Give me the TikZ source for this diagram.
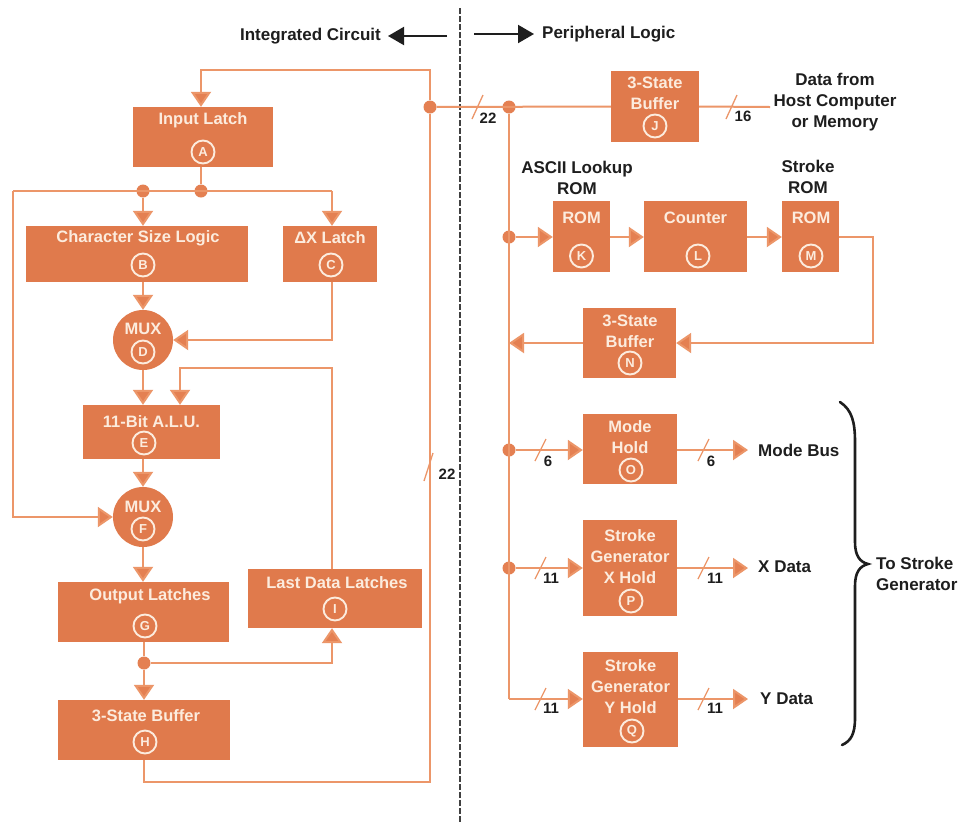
\documentclass[tikz,border=0pt]{standalone}
\usepackage{fontspec}
\setmainfont{Liberation Sans}
\usetikzlibrary{arrows.meta,calc}
\definecolor{boxc}{RGB}{224,122,76}
\definecolor{linec}{RGB}{236,150,105}
\definecolor{dotc}{RGB}{228,128,82}
\definecolor{txtc}{RGB}{252,236,222}
\definecolor{inkc}{RGB}{30,30,30}
\begin{document}
\begin{tikzpicture}[x=1pt,y=-1pt,
  blk/.style={rectangle,fill=boxc,draw=none,inner sep=0pt},
  mux/.style={circle,fill=boxc,draw=none,inner sep=0pt,minimum size=60pt},
  wtxt/.style={text=txtc,font=\fontsize{16.5}{21}\selectfont\bfseries,inner sep=0pt,align=center},
  ltr/.style={circle,draw=txtc,line width=1.9pt,minimum size=23pt,inner sep=0pt,text=txtc,font=\fontsize{13}{13}\selectfont\bfseries},
  btxt/.style={text=inkc,font=\fontsize{17}{21}\selectfont\bfseries,inner sep=0pt,align=center},
  num/.style={text=inkc,font=\fontsize{15}{15}\selectfont\bfseries,inner sep=0pt},
  wire/.style={draw=linec,line width=2pt},
  arr/.style={wire,-{Triangle[width=20pt,length=15pt,fill=dotc]},draw=linec},
  harr/.style={draw=inkc,line width=2pt,-{Triangle[width=18pt,length=16pt]}},
  dot/.style={circle,fill=dotc,draw=none,minimum size=13pt,inner sep=0pt},
  tick/.style={draw=linec,line width=1.3pt}
]
\fill[white] (0,0) rectangle (964,823);
\useasboundingbox (0,0) rectangle (964,823);

% header
\node[btxt,anchor=east] (ic) at (381,36) {Integrated Circuit};
\coordinate (ica) at (447,36);
\draw[harr] (ica) -- ([xshift=7]ic.east);
\node[btxt,anchor=west] (pl) at (542,34) {Peripheral Logic};
\coordinate (pla) at (474,34);
\draw[harr] (pla) -- ([xshift=-8]pl.west);
\coordinate (dt) at (460,8);
\coordinate (db) at (460,823);
\draw[draw=inkc!85,line width=1.3pt,dash pattern=on 6pt off 2pt] (dt) -- (db);

% left blocks
\node[blk,minimum width=140,minimum height=60] (A) at (203,137) {};
\node[wtxt] (At) at (203,120) {Input Latch};
\node[ltr] (Al) at (203,152) {A};
\node[blk,minimum width=222,minimum height=56] (B) at (137,254) {};
\node[wtxt] (Bt) at (138,238) {Character Size Logic};
\node[ltr] (Bl) at (143,265) {B};
\node[blk,minimum width=94,minimum height=56] (C) at (330,254) {};
\node[wtxt] (Ct) at (330,238) {ΔX Latch};
\node[ltr] (Cl) at (331,265) {C};
\node[mux] (D) at (143,340) {};
\node[wtxt] (Dt) at (143,329) {MUX};
\node[ltr] (Dl) at (143,352) {D};
\node[blk,minimum width=137,minimum height=54] (E) at (151.5,432) {};
\node[wtxt] (Et) at (151.5,422) {11-Bit A.L.U.};
\node[ltr] (El) at (144,443) {E};
\node[mux] (F) at (143,517) {};
\node[wtxt] (Ft) at (143,507) {MUX};
\node[ltr] (Fl) at (143,529) {F};
\node[blk,minimum width=171,minimum height=60] (G) at (143.5,612) {};
\node[wtxt] (Gt) at (150,596) {Output Latches};
\node[ltr] (Gl) at (145,626) {G};
\node[blk,minimum width=174,minimum height=59] (I) at (335,598.5) {};
\node[wtxt] (It) at (337,583) {Last Data Latches};
\node[ltr] (Il) at (335,609) {I};
\node[blk,minimum width=172,minimum height=60] (H) at (144,730) {};
\node[wtxt] (Ht) at (146,716) {3-State Buffer};
\node[ltr] (Hl) at (145,742) {H};

% right blocks
\node[blk,minimum width=88,minimum height=71] (J) at (655,106.5) {};
\node[wtxt] (Jt) at (655,93.5) {3-State\\Buffer};
\node[ltr] (Jl) at (655,126) {J};
\node[blk,minimum width=57,minimum height=71] (K) at (581.5,236.5) {};
\node[wtxt] (Kt) at (581.5,218) {ROM};
\node[ltr] (Kl) at (581.5,256) {K};
\node[blk,minimum width=103,minimum height=71] (L) at (695.5,236.5) {};
\node[wtxt] (Lt) at (695.5,218) {Counter};
\node[ltr] (Ll) at (698,256) {L};
\node[blk,minimum width=57,minimum height=71] (M) at (810.5,236.5) {};
\node[wtxt] (Mt) at (811,218) {ROM};
\node[ltr] (Ml) at (811,256) {M};
\node[blk,minimum width=93,minimum height=70] (N) at (629.5,343) {};
\node[wtxt] (Nt) at (630,331.5) {3-State\\Buffer};
\node[ltr] (Nl) at (630,363) {N};
\node[blk,minimum width=94,minimum height=70] (O) at (630,449) {};
\node[wtxt] (Ot) at (630,437) {Mode\\Hold};
\node[ltr] (Ol) at (631,470) {O};
\node[blk,minimum width=94,minimum height=96] (P) at (630,568) {};
\node[wtxt] (Pt) at (630,557) {Stroke\\Generator\\X Hold};
\node[ltr] (Pl) at (631,601) {P};
\node[blk,minimum width=95,minimum height=95] (Q) at (630.5,699.5) {};
\node[wtxt] (Qt) at (630.5,687) {Stroke\\Generator\\Y Hold};
\node[ltr] (Ql) at (632,731) {Q};

% labels
\node[btxt] (asc) at (577,177.5) {ASCII Lookup\\ROM};
\node[btxt] (srom) at (808,176.5) {Stroke\\ROM};
\node[btxt] (dfh) at (835,102) {Data from\\Host Computer\\or Memory};
\node[btxt,anchor=west] (mb) at (758,450) {Mode Bus};
\node[btxt,anchor=west] (xd) at (758,567) {X Data};
\node[btxt,anchor=west] (yd) at (760,699) {Y Data};
\node[btxt,anchor=west,align=left] (tsg) at (876,574) {To Stroke\\Generator};

% left wiring
\node[dot] (dA1) at (143,191) {};
\node[dot] (dA2) at (201,191) {};
\coordinate (lb) at (13,191);
\coordinate (rb) at (332,191);
\draw[wire] (A.south -| dA2) -- (dA2);
\draw[wire] (lb) -- (rb);
\draw[arr] (dA1) -- (dA1 |- B.north);
\draw[arr] (rb) -- (rb |- C.north);
\draw[arr] (dA1 |- B.south) -- (D.north);
\draw[arr] (rb |- C.south) |- (D.east);
\draw[arr] (D.south) -- (D.south |- E.north);
\coordinate (ie) at (180,368);
\draw[arr] (I.north -| rb) |- (ie) -- (ie |- E.north);
\draw[arr] (D.south |- E.south) -- (F.north);
\draw[arr] (lb) |- (F.west);
\draw[arr] (F.south) -- (F.south |- G.north);
\node[dot] (dG) at (144,663) {};
\draw[wire] (dG |- G.south) -- (dG);
\draw[arr] (dG) -- (dG |- H.north);
\draw[arr] (dG) -| (I.south -| rb);
\node[dot] (d1) at (430,107) {};
\coordinate (hb) at (144,782);
\draw[wire] (hb |- H.south) -- (hb) -| (d1);
\coordinate (tl) at (430,70);
\draw[arr] (d1) -- (tl) -| (A.north -| dA2);

% right wiring
\node[dot] (d2) at (509,107) {};
\draw[wire] (d1) -- (J.west);
\coordinate (jr) at (770,107);
\draw[wire] (J.east) -- (jr);
\node[dot] (d3) at (509,237) {};
\node[dot] (d4) at (509,450) {};
\node[dot] (d5) at (509,568) {};
\coordinate (bb) at (509,699);
\draw[wire] (d2) -- (bb);
\draw[arr] (d3) -- (K.west |- d3);
\draw[arr] (K.east |- d3) -- (L.west |- d3);
\draw[arr] (L.east |- d3) -- (M.west |- d3);
\coordinate (mr) at (873,237);
\draw[arr] (M.east |- mr) -- (mr) |- (N.east);
\draw[arr] (N.west) -- (N.west -| d2);
\draw[arr] (d4) -- (O.west |- d4);
\draw[arr] (O.east |- d4) -- ([xshift=-10]mb.west);
\draw[arr] (d5) -- (P.west |- d5);
\draw[arr] (P.east |- d5) -- ([xshift=-10]xd.west |- d5);
\draw[arr] (bb) -- (Q.west |- bb);
\draw[arr] (Q.east |- bb) -- ([xshift=-12]yd.west |- bb);

% bus width ticks
\draw[tick] (472,119) -- (483,95);
\node[num] (n22a) at (488,118) {22};
\draw[tick] (726,119) -- (737,95);
\node[num] (n16) at (743,116) {16};
\draw[tick] (424,481) -- (433,453);
\node[num] (n22b) at (447,474) {22};
\draw[tick] (535,461) -- (546,439);
\node[num] (n6a) at (548,461) {6};
\draw[tick] (698,461) -- (709,439);
\node[num] (n6b) at (711,461) {6};
\draw[tick] (535,579) -- (546,557);
\node[num] (n11a) at (551,578) {11};
\draw[tick] (698,579) -- (709,557);
\node[num] (n11b) at (715,578) {11};
\draw[tick] (535,710) -- (546,688);
\node[num] (n11c) at (551,708) {11};
\draw[tick] (698,710) -- (709,688);
\node[num] (n11d) at (715,708) {11};

% brace
\coordinate (br1) at (840,402);
\coordinate (brt) at (868,564);
\coordinate (br2) at (842,745);
\draw[inkc,line width=2.6pt,line cap=round]
  (br1) .. controls (852,410) and (855,422) .. (855,442) -- (855,542)
  .. controls (855,556) and (860,562) .. (brt)
  .. controls (860,566) and (855,572) .. (855,586) -- (855,718)
  .. controls (855,734) and (851,741) .. (br2);
\end{tikzpicture}
\end{document}
